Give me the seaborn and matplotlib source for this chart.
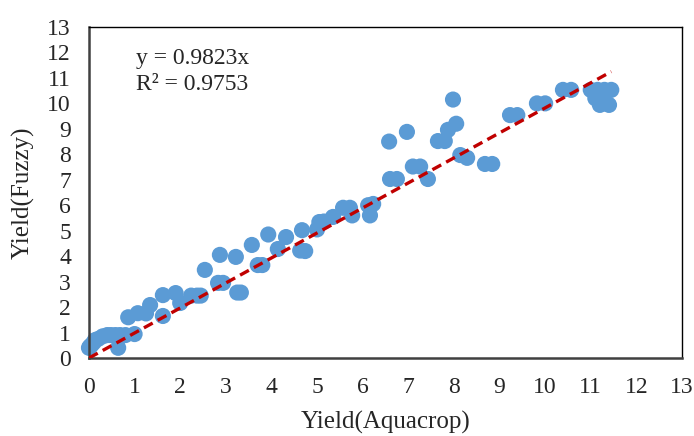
import numpy as np
import pandas as pd
import matplotlib
matplotlib.use("Agg")
import matplotlib.pyplot as plt
import seaborn as sns

aquacrop = [0.00, 0.02, 0.05, 0.10, 0.13, 0.20, 0.30, 0.40, 0.48, 0.58, 0.68, 0.64, 0.80, 1.00,
            0.86, 1.07, 1.25, 1.34, 1.62, 1.62, 1.90, 2.00, 2.24, 2.37, 2.45, 2.54, 2.83, 2.94,
            2.87, 3.22, 3.25, 3.33, 3.57, 3.70, 3.80, 3.93, 4.14, 4.32, 4.63, 4.74, 4.67, 5.00,
            5.05, 5.15, 5.35, 5.57, 5.72, 5.77, 6.12, 6.23, 6.16, 6.58, 6.60, 6.75, 6.97, 7.10,
            7.26, 7.43, 7.65, 7.80, 7.87, 7.98, 8.05, 8.14, 8.29, 8.68, 8.84, 9.23, 9.39, 9.82,
            10.00, 10.39, 10.57, 11.00, 11.15, 11.30, 11.45, 11.10, 11.25, 11.20, 11.40]
fuzzy = [0.40, 0.45, 0.50, 0.60, 0.70, 0.75, 0.85, 0.90, 0.90, 0.90, 0.90, 0.40, 0.90, 0.94,
         1.60, 1.76, 1.75, 2.08, 1.65, 2.47, 2.55, 2.16, 2.45, 2.45, 2.45, 3.46, 2.95, 2.95,
         4.05, 3.97, 2.57, 2.57, 4.44, 3.65, 3.65, 4.85, 4.28, 4.75, 4.22, 4.20, 5.02, 5.05,
         5.34, 5.36, 5.54, 5.90, 5.90, 5.60, 6.00, 6.05, 5.60, 8.50, 7.03, 7.03, 8.88, 7.52,
         7.52, 7.03, 8.52, 8.52, 8.96, 10.15, 9.20, 7.97, 7.86, 7.62, 7.62, 9.54, 9.54, 10.00,
         10.00, 10.53, 10.53, 10.53, 10.53, 10.53, 10.53, 10.20, 10.20, 9.94, 9.94]

slope = 0.9823
r2 = 0.9753
ticks = list(range(0, 14))

df = pd.DataFrame({"Aquacrop": aquacrop, "Fuzzy": fuzzy})

sns.set_style("white")
plt.rcParams['font.family'] = ['Liberation Serif', 'DejaVu Serif']

fig = plt.figure(figsize=(6.94, 4.36), dpi=100)
ax = fig.add_axes([0.1282, 0.1789, 0.8545, 0.7592])

sns.scatterplot(data=df, x="Aquacrop", y="Fuzzy", ax=ax, color="#5B9BD5",
                s=135, edgecolor="none", linewidth=0, zorder=2, clip_on=False)

xl = np.array([0.0, max(aquacrop)])
ax.plot(xl, slope * xl, color="#C00000", linewidth=2.4, dashes=(3.0, 1.7), zorder=3)

ax.set_xlim(0, 13)
ax.set_ylim(0, 13)
ax.set_xticks(ticks)
ax.set_yticks(ticks)
ax.set_xticklabels([str(t) for t in ticks], fontsize=17)
ax.set_yticklabels([str(t) for t in ticks], fontsize=17)
ax.tick_params(axis='x', length=0, pad=14)
ax.tick_params(axis='y', length=0, pad=13)

ax.set_xlabel("Yield(Aquacrop)", fontsize=18, labelpad=9)
ax.set_ylabel("Yield(Fuzzy)", fontsize=18, labelpad=9)

for side in ["left", "bottom"]:
    ax.spines[side].set_color("#404040")
    ax.spines[side].set_linewidth(1.8)
for side in ["top", "right"]:
    ax.spines[side].set_color("#000000")
    ax.spines[side].set_linewidth(1.0)

ax.text(0.080, 0.905, f"y = {slope}x", transform=ax.transAxes, fontsize=17,
        ha="left", va="center")
ax.text(0.080, 0.826, f"R² = {r2}", transform=ax.transAxes, fontsize=17,
        ha="left", va="center")

fig.savefig("out.png", dpi=100)
